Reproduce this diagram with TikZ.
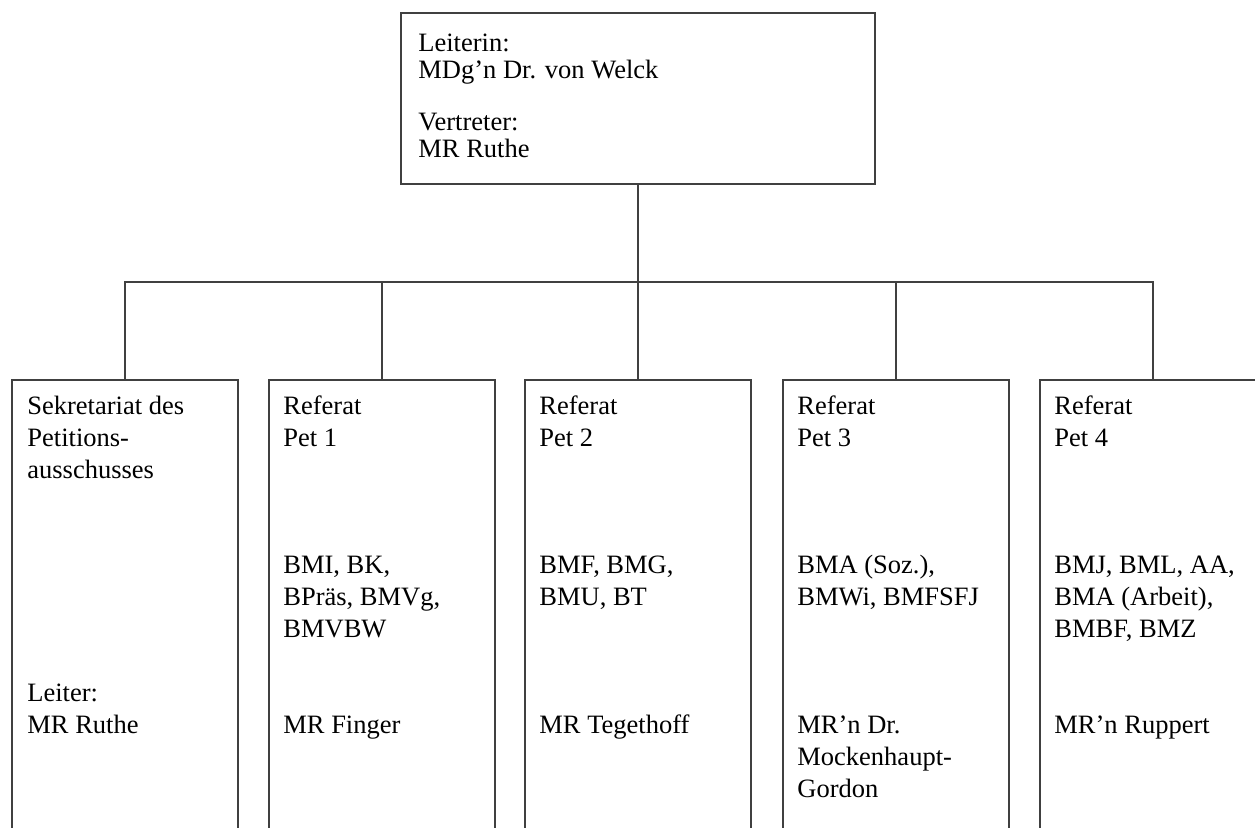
\documentclass[tikz,border=0pt]{standalone}
\usepackage{fontspec}
\setmainfont{Liberation Serif}
\newfontfamily\orgfont{Liberation Serif}
\usetikzlibrary{positioning}

\tikzset{
  leadbox/.style={draw=black!75, line width=0.8pt, anchor=north west, inner sep=0pt,
    minimum width=237pt, minimum height=85.5pt},
  orgbox/.style={draw=black!75, line width=0.8pt, anchor=north west, inner sep=0pt,
    minimum width=113pt, minimum height=240pt},
  orgtxt/.style={anchor=base west, align=left, inner sep=0pt,
    font=\orgfont\fontsize{13.25pt}{15.85pt}\selectfont},
  leadtxt/.style={orgtxt, font=\orgfont\fontsize{13.25pt}{13.15pt}\selectfont},
  link/.style={draw=black!75, line width=0.8pt}
}

\begin{document}
\begin{tikzpicture}[x=0.5pt,y=-0.5pt]
  \useasboundingbox (0,0) rectangle (1255,827);
  \clip (0,0) rectangle (1255,827);

  % Leitung
  \node[leadbox] (lead) at (400,12) {};
  \node[leadtxt] (leadname) at ([shift={(18,145)}]lead.north west)
    {Leiterin:\\MDg’n Dr. von Welck\\[13.15pt]Vertreter:\\MR Ruthe};

  % Sekretariat und Referate
  \node[orgbox] (sek)  at (11,379) {};
  \node[orgbox] (pet1) at (268,379) {};
  \node[orgbox] (pet2) at (524,379) {};
  \node[orgbox] (pet3) at (782,379) {};
  \node[orgbox] (pet4) at (1039,379) {};

  % (base = Grundlinie der letzten Zeile)
  \node[orgtxt] (sekhead) at ([shift={(16,99)}]sek.north west)
    {Sekretariat des\\Petitions-\\ausschusses};
  \node[orgtxt] (sekname) at ([shift={(16,354)}]sek.north west)
    {Leiter:\\MR Ruthe};

  \node[orgtxt] (pet1head) at ([shift={(15,67)}]pet1.north west) {Referat\\Pet 1};
  \node[orgtxt] (pet1res)  at ([shift={(15,258)}]pet1.north west)
    {BMI, BK,\\BPräs, BMVg,\\BMVBW};
  \node[orgtxt] (pet1name) at ([shift={(15,354)}]pet1.north west) {MR Finger};

  \node[orgtxt] (pet2head) at ([shift={(15,67)}]pet2.north west) {Referat\\Pet 2};
  \node[orgtxt] (pet2res)  at ([shift={(15,226)}]pet2.north west)
    {BMF, BMG,\\BMU, BT};
  \node[orgtxt] (pet2name) at ([shift={(15,354)}]pet2.north west) {MR Tegethoff};

  \node[orgtxt] (pet3head) at ([shift={(15,67)}]pet3.north west) {Referat\\Pet 3};
  \node[orgtxt] (pet3res)  at ([shift={(15,226)}]pet3.north west)
    {BMA (Soz.),\\BMWi, BMFSFJ};
  \node[orgtxt] (pet3name) at ([shift={(15,418)}]pet3.north west)
    {MR’n Dr.\\Mockenhaupt-\\Gordon};

  \node[orgtxt] (pet4head) at ([shift={(15,67)}]pet4.north west) {Referat\\Pet 4};
  \node[orgtxt] (pet4res)  at ([shift={(15,258)}]pet4.north west)
    {BMJ, BML, AA,\\BMA (Arbeit),\\BMBF, BMZ};
  \node[orgtxt] (pet4name) at ([shift={(15,354)}]pet4.north west) {MR’n Ruppert};

  % Verbindungen
  \coordinate (bar) at (637,282);
  \draw[link] (lead.south) -- (lead.south |- bar);
  \draw[link] (sek.north) |- (bar) -| (pet4.north);
  \draw[link] (pet1.north) -- (pet1.north |- bar);
  \draw[link] (pet2.north) -- (pet2.north |- bar);
  \draw[link] (pet3.north) -- (pet3.north |- bar);
\end{tikzpicture}
\end{document}
